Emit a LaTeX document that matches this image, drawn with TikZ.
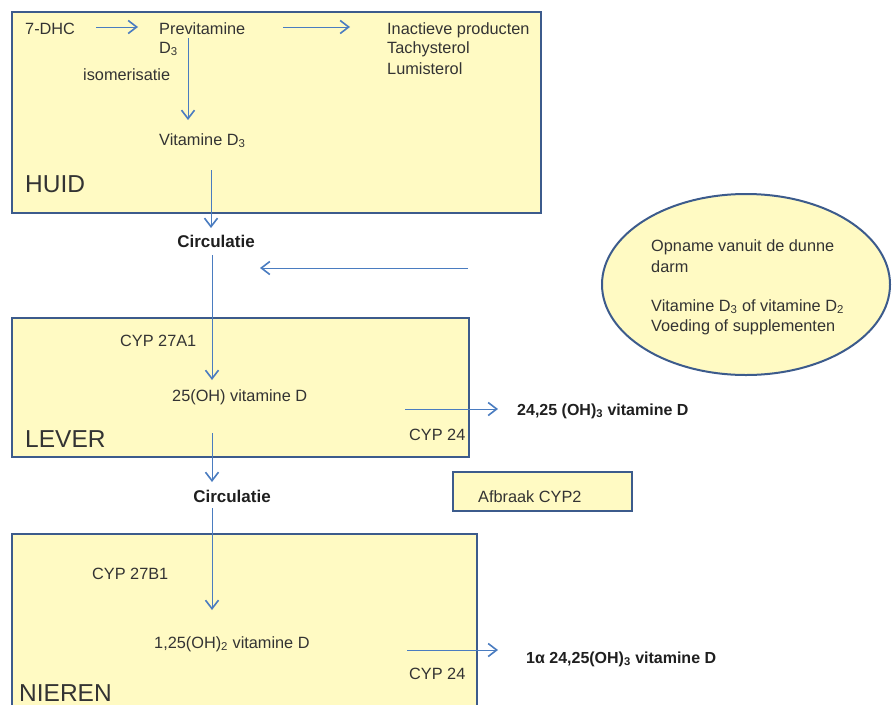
\documentclass[tikz,border=0pt]{standalone}
\usepackage{fontspec}
\setmainfont{Liberation Sans}
\usetikzlibrary{arrows.meta,shapes.geometric}
\definecolor{boxfill}{HTML}{FFFAC3}
\definecolor{boxline}{HTML}{3C5B8C}
\definecolor{arr}{HTML}{4A7CC0}
\definecolor{txt}{HTML}{333333}
\begin{document}
\begin{tikzpicture}[x=1pt,y=-1pt,
  box/.style={draw=boxline, line width=2.2pt, fill=boxfill, anchor=north west, inner sep=0pt},
  lbl/.style={anchor=base west, inner sep=0pt, text=txt, font=\fontsize{16.3}{19}\selectfont},
  big/.style={lbl, font=\fontsize{24.5}{28}\selectfont},
  bld/.style={anchor=base, inner sep=0pt, text=black!88, font=\fontsize{16}{19}\selectfont\bfseries},
  flow/.style={draw=arr, line width=1pt, -{Straight Barb[length=8.5pt,width=13pt,line width=1.6pt]}}
]
\useasboundingbox (0,0) rectangle (893,704);

% containers
\node[box, minimum width=529pt, minimum height=201pt] (huid) at (11,11) {};
\node[box, minimum width=457pt, minimum height=139pt] (lever) at (11,317) {};
\node[box, minimum width=179pt, minimum height=39pt] (afbraak) at (452,471) {};
\node[box, minimum width=465pt, minimum height=190pt] (nieren) at (11,533) {};
\node[ellipse, draw=boxline, line width=2pt, fill=boxfill, minimum width=288pt, minimum height=181pt] (opname) at (746,284.5) {};

% HUID texts
\node[lbl] (dhc) at (25,34) {7-DHC};
\node[lbl] (previt) at (159,34) {Previtamine};
\node[lbl] (previtd) at (159,53) {D\textsubscript{3}};
\node[lbl] (inact) at (387,34) {Inactieve producten};
\node[lbl] (tachy) at (387,53) {Tachysterol};
\node[lbl] (lumi) at (387,74) {Lumisterol};
\node[lbl] (isom) at (83,80) {isomerisatie};
\node[lbl] (vitd) at (159,145) {Vitamine D\textsubscript{3}};
\node[big] (huidl) at (25,192) {HUID};

\node[bld, font=\fontsize{17}{19}\selectfont\bfseries] (circ1) at (216,247) {Circulatie};

% ellipse texts
\node[lbl] (op1) at (651,251) {Opname vanuit de dunne};
\node[lbl] (op2) at (651,272) {darm};
\node[lbl] (op3) at (651,311) {Vitamine D\textsubscript{3} of vitamine D\textsubscript{2}};
\node[lbl] (op4) at (651,331) {Voeding of supplementen};

% LEVER texts
\node[lbl] (cyp27a) at (120,346) {CYP 27A1};
\node[lbl] (ohd) at (172,401) {25(OH) vitamine D};
\node[bld, anchor=base west] (deg1) at (517,415) {24,25 (OH)\textsubscript{3} vitamine D};
\node[lbl] (cyp24a) at (409,440) {CYP 24};
\node[big] (leverl) at (25,447) {LEVER};

\node[bld, font=\fontsize{17}{19}\selectfont\bfseries] (circ2) at (232,502) {Circulatie};
\node[lbl] (afbr) at (478,502) {Afbraak CYP2};

% NIEREN texts
\node[lbl] (cyp27b) at (92,579) {CYP 27B1};
\node[lbl] (ohtwo) at (154,648) {1,25(OH)\textsubscript{2} vitamine D};
\node[bld, anchor=base west] (deg2) at (526,663) {1α 24,25(OH)\textsubscript{3} vitamine D};
\node[lbl] (cyp24b) at (409,679) {CYP 24};
\node[big] (nierenl) at (19,701) {NIEREN};

% arrow end points
\coordinate (a1s) at (96,27);   \coordinate (a1e) at (138,27);
\coordinate (a2s) at (283,27);  \coordinate (a2e) at (350,27);
\coordinate (a3s) at (188,38);  \coordinate (a3e) at (188,120);
\coordinate (a4s) at (211,170); \coordinate (a4e) at (211,228);
\coordinate (a5s) at (212,255); \coordinate (a5e) at (212,380);
\coordinate (a6s) at (468,268); \coordinate (a6e) at (260,268);
\coordinate (a7s) at (405,409); \coordinate (a7e) at (498,409);
\coordinate (a8s) at (212,433); \coordinate (a8e) at (212,482);
\coordinate (a9s) at (212,508); \coordinate (a9e) at (212,610);
\coordinate (a10s) at (407,650); \coordinate (a10e) at (498,650);

\draw[flow] (a1s) -- (a1e);
\draw[flow] (a2s) -- (a2e);
\draw[flow] (a3s) -- (a3e);
\draw[flow] (a4s) -- (a4e);
\draw[flow] (a5s) -- (a5e);
\draw[flow] (a6s) -- (a6e);
\draw[flow] (a7s) -- (a7e);
\draw[flow] (a8s) -- (a8e);
\draw[flow] (a9s) -- (a9e);
\draw[flow] (a10s) -- (a10e);
\end{tikzpicture}
\end{document}
